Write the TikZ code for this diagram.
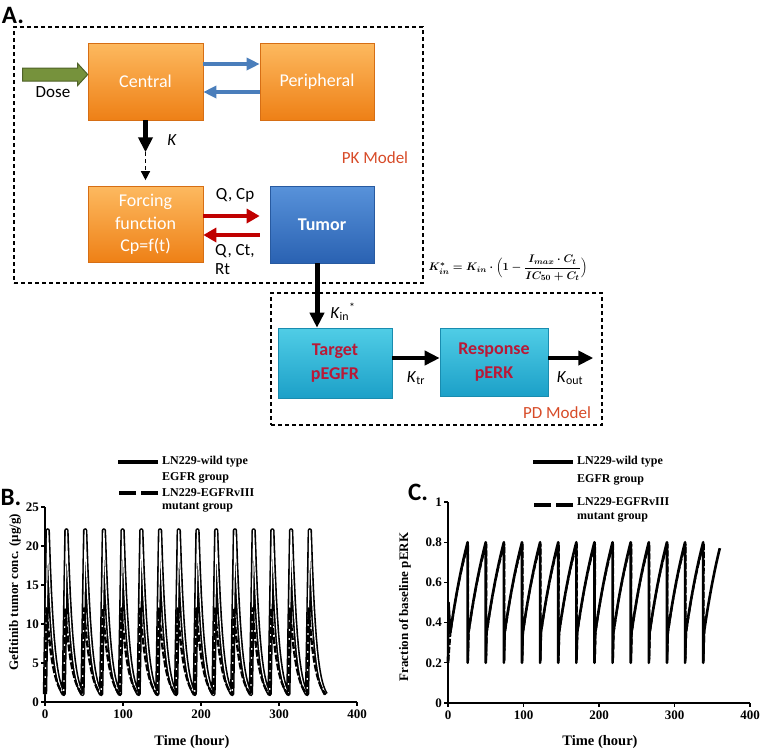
\documentclass[tikz,border=0pt]{standalone}
\usepackage{amsmath}
\usepackage{fontspec}
\setmainfont{Carlito}
\newfontfamily\plotfont{Liberation Serif}
\usetikzlibrary{arrows.meta, positioning}
\definecolor{orgTop}{RGB}{253,185,95}
\definecolor{orgBot}{RGB}{238,128,22}
\definecolor{orgEdge}{RGB}{214,110,20}
\definecolor{bluTop}{RGB}{88,146,218}
\definecolor{bluBot}{RGB}{42,98,178}
\definecolor{bluEdge}{RGB}{40,90,160}
\definecolor{cyTop}{RGB}{80,205,230}
\definecolor{cyBot}{RGB}{28,160,200}
\definecolor{cyEdge}{RGB}{25,140,175}
\definecolor{cyText}{RGB}{185,25,55}
\definecolor{arrBlue}{RGB}{74,126,187}
\definecolor{arrRed}{RGB}{192,0,0}
\definecolor{doseFill}{RGB}{118,146,60}
\definecolor{doseEdge}{RGB}{79,98,40}
\definecolor{modelText}{RGB}{215,75,40}
\newsavebox{\formulabox}
\tikzset{
  OrangeBox/.style = {
    draw=orgEdge, line width=0.6pt, top color=orgTop, bottom color=orgBot,
    text=white, align=center, inner sep=0pt, font=\fontsize{18}{22.5}\selectfont,
  },
  TumorBox/.style = {OrangeBox, draw=bluEdge, top color=bluTop, bottom color=bluBot,
    font=\fontsize{18}{22.5}\selectfont\bfseries},
  CyanBox/.style = {OrangeBox, draw=cyEdge, top color=cyTop, bottom color=cyBot,
    text=cyText, font=\fontsize{18}{23.5}\selectfont\bfseries},
  ModelBox/.style = {draw, dash pattern=on 4pt off 3pt, line width=1.3pt, inner sep=0pt},
  Lbl/.style = {font=\fontsize{17}{19}\selectfont, inner sep=0pt},
  FormulaLbl/.style = {inner sep=0pt},
  Panel/.style = {font=\fontsize{25}{28}\selectfont\bfseries, inner sep=0pt},
  ArrowBlue/.style = {draw=arrBlue, line width=4pt, -{Triangle[length=13pt, width=12pt]}},
  ArrowRed/.style = {draw=arrRed, line width=4.5pt, -{Triangle[length=13pt, width=14pt]}},
  ArrowBlack/.style = {draw, line width=5pt, -{Triangle[length=15pt, width=14pt]}},
  ArrowDash/.style = {draw, line width=1.3pt, dash pattern=on 4pt off 3pt,
    -{Triangle[length=9pt, width=9pt]}},
  DoseArrow/.style = {draw=doseEdge, fill=doseFill, line width=1pt},
  PlotText/.style = {font=\plotfont\bfseries\fontsize{13}{15}\selectfont, inner sep=1.5pt},
  PlotTitle/.style = {font=\plotfont\bfseries\fontsize{14.5}{16}\selectfont, inner sep=0pt},
  AxisTitle/.style = {font=\plotfont\bfseries\fontsize{13}{15}\selectfont, inner sep=0pt, rotate=90},
  PlotLegend/.style = {font=\plotfont\bfseries\fontsize{12}{14}\selectfont, inner sep=0pt},
  Axis/.style = {line width=1.3pt},
  LegSolid/.style = {line width=3.5pt},
  LegDash/.style = {line width=3.5pt, dash pattern=on 17pt off 5pt},
  WildLine/.style = {line width=1.6pt, double, double distance=1.2pt, line join=round},
  MutantLine/.style = {line width=2.4pt, dash pattern=on 7pt off 2pt, line join=round},
  ErkLine/.style = {line width=2.6pt, line join=round},
  ErkDash/.style = {line width=2pt, dash pattern=on 6pt off 2pt, line join=round},
}

\begin{document}
\sbox{\formulabox}{\fontsize{11}{13}\selectfont\boldmath
  $K^{*}_{in}=K_{in}\cdot\Bigl(1-\dfrac{I_{max}\cdot C_{t}}{IC_{50}+C_{t}}\Bigr)$}
\begin{tikzpicture}[x=1pt, y=-1pt]
  \useasboundingbox (0,0) rectangle (761,748);

  \node[Panel] (panelA) at (13,15) {A.};
  \node[ModelBox, minimum width=409pt, minimum height=256pt] (pkbox) at (218.5,155) {};
  \node[ModelBox, minimum width=331pt, minimum height=132pt] (pdbox) at (436.5,359) {};

  \node[OrangeBox, minimum width=115pt, minimum height=77pt] (central) at (145.5,81.5) {Central};
  \node[OrangeBox, minimum width=114pt, minimum height=77pt] (peripheral) at (317,81.5) {Peripheral};
  \node[OrangeBox, minimum width=115pt, minimum height=76pt] (forcing) at (145.5,224.5) {Forcing\\function\\Cp=f(t)};
  \node[TumorBox, minimum width=104pt, minimum height=77pt] (tumor) at (322,224.5) {Tumor};
  \node[CyanBox, minimum width=114pt, minimum height=70pt] (target) at (335,363) {Target\\pEGFR};
  \node[CyanBox, minimum width=108pt, minimum height=68pt] (response) at (494,362) {Response\\pERK};

  \draw[DoseArrow] ([yshift=7pt]central.west) -- ++(-10pt,11pt) -- ++(0pt,-4.5pt) -- ++(-55pt,0pt)
    -- ++(0pt,-13pt) -- ++(55pt,0pt) -- ++(0pt,-4.5pt) -- cycle;
  \node[Lbl] (doselbl) at (53,92) {Dose};

  \draw[ArrowBlue] ([yshift=17.5pt]central.east) -- ([yshift=17.5pt]peripheral.west);
  \draw[ArrowBlue] ([yshift=-10.5pt]peripheral.west) -- ([yshift=-10.5pt]central.east);

  \coordinate (kmid) at ([yshift=-32pt]central.south);
  \draw[ArrowBlack] (central.south) -- (kmid);
  \draw[ArrowDash] (kmid) -- ([yshift=6pt]forcing.north);
  \node[Lbl] (klbl) at (172,140) {\textit{K}};
  \node[Lbl, text=modelText] (pklbl) at (375,158) {PK Model};

  \draw[ArrowRed] ([yshift=8.5pt]forcing.east) -- ([xshift=-10pt, yshift=8.5pt]tumor.west);
  \draw[ArrowRed] ([xshift=-10pt, yshift=-10.5pt]tumor.west) -- ([yshift=-10.5pt]forcing.east);
  \node[Lbl] (qcp) at (235,195) {Q, Cp};
  \node[Lbl, align=left, anchor=north west] (qct) at (215,244) {Q, Ct,\\Rt};

  \coordinate (tumorout) at ([xshift=-5pt]tumor.south);
  \draw[ArrowBlack] (tumorout) -- (tumorout |- target.north);
  \node[Lbl] (kin) at (343,312) {\textit{K}\textsubscript{in}\textsuperscript{*}};
  \node[FormulaLbl] (formula) at (508,268) {\usebox{\formulabox}};

  \draw[ArrowBlack, line width=4.5pt] ([yshift=5pt]target.east) -- ([yshift=5pt]target.east -| response.west);
  \coordinate (outEnd) at ([xshift=45pt, yshift=4pt]response.east);
  \draw[ArrowBlack, line width=4.5pt] ([yshift=4pt]response.east) -- (outEnd);
  \node[Lbl] (ktr) at (416,378) {\textit{K}\textsubscript{tr}};
  \node[Lbl] (kout) at (570,378) {\textit{K}\textsubscript{out}};
  \node[Lbl, text=modelText] (pdlbl) at (557,413) {PD Model};

  \node[Panel] (panelB) at (11,497) {B.};
  \node[PlotLegend, anchor=west] (legB1) at (162,462) {LN229-wild type};
  \node[PlotLegend, anchor=west] (legB2) at (162,478) {EGFR group};
  \node[PlotLegend, anchor=west] (legB3) at (162,493) {LN229-EGFRvIII};
  \node[PlotLegend, anchor=west] (legB4) at (162,507) {mutant group};
  \draw[LegSolid] ([xshift=-4pt]legB1.west) -- ++(-40pt,0pt);
  \draw[LegDash] ([xshift=-4pt]legB3.west) -- ++(-40pt,0pt);
  \node[PlotTitle] (timeB) at (192,742) {Time (hour)};
  \node[AxisTitle] (concB) at (15,592) {Gefitinib tumor conc. (µg/g)};
  \begin{scope}[shift={(45,702)}, x=0.78pt, y=7.8pt]
    \draw[Axis] (0,25) -- (0,0) -- (400,0);
    \foreach \v in {0,5,...,25}
      \draw[Axis] (0,\v) -- ++(-4pt,0pt) node[left, PlotText] {\v};
    \foreach \v in {0,100,...,400}
      \draw[Axis] (\v,0) -- ++(0pt,-4pt) node[below, PlotText, yshift=-2pt] {\v};
    \draw[WildLine] (0,1) \foreach \k in {0,...,14}{
      -- ({24*\k+3.5},22) -- plot[domain=0:20.5, samples=14] ({24*\k+3.5+\x},{22*exp(-0.15*\x)}) };
    \draw[MutantLine] (0,1) \foreach \k in {0,...,14}{
      -- ({24*\k+2},12) -- plot[domain=0:22, samples=14] ({24*\k+2+\x},{12*exp(-0.115*\x)}) };
  \end{scope}

  \node[Panel] (panelC) at (418,492) {C.};
  \node[PlotLegend, anchor=west] (legC1) at (577,462) {LN229-wild type};
  \node[PlotLegend, anchor=west] (legC2) at (577,480) {EGFR group};
  \node[PlotLegend, anchor=west] (legC3) at (577,502) {LN229-EGFRvIII};
  \node[PlotLegend, anchor=west] (legC4) at (577,517) {mutant group};
  \draw[LegSolid] ([xshift=-4pt]legC1.west) -- ++(-40pt,0pt);
  \draw[LegDash] ([xshift=-4pt, yshift=-3pt]legC3.west) -- ++(-40pt,0pt);
  \node[PlotTitle] (timeC) at (600,742) {Time (hour)};
  \node[AxisTitle] (erkC) at (405,607) {Fraction of baseline pERK};
  \begin{scope}[shift={(448,703)}, x=0.755pt, y=201pt]
    \draw[Axis] (0,1) -- (0,0) -- (400,0);
    \foreach \v in {0,0.2,0.4,0.6,0.8,1}
      \draw[Axis] (0,\v) -- ++(-4pt,0pt) node[left, PlotText] {\v};
    \foreach \v in {0,100,...,400}
      \draw[Axis] (\v,0) -- ++(0pt,-4pt) node[below, PlotText, yshift=-2pt] {\v};
    \draw[ErkLine] (0,0.2) -- (0.6,0.5) -- (3,0.35) \foreach \k in {0,...,13}{
      -- plot[domain=0:23, samples=12] ({24*\k+3+\x},{0.35+0.45*(1-exp(-\x/40))/(1-exp(-23/40))})
      -- ({24*\k+26},0.2) -- ({24*\k+27},0.35) }
      -- plot[domain=0:21, samples=11] ({339+\x},{0.35+0.45*(1-exp(-\x/40))/(1-exp(-23/40))});
    \draw[ErkDash] (0.5,0.21) -- (3.5,0.36) \foreach \k in {0,...,13}{
      -- plot[domain=0:23, samples=12] ({24*\k+3.8+\x},{0.36+0.43*(1-exp(-\x/30))/(1-exp(-23/30))})
      -- ({24*\k+26.5},0.21) -- ({24*\k+27.5},0.36) };
  \end{scope}
\end{tikzpicture}
\end{document}
